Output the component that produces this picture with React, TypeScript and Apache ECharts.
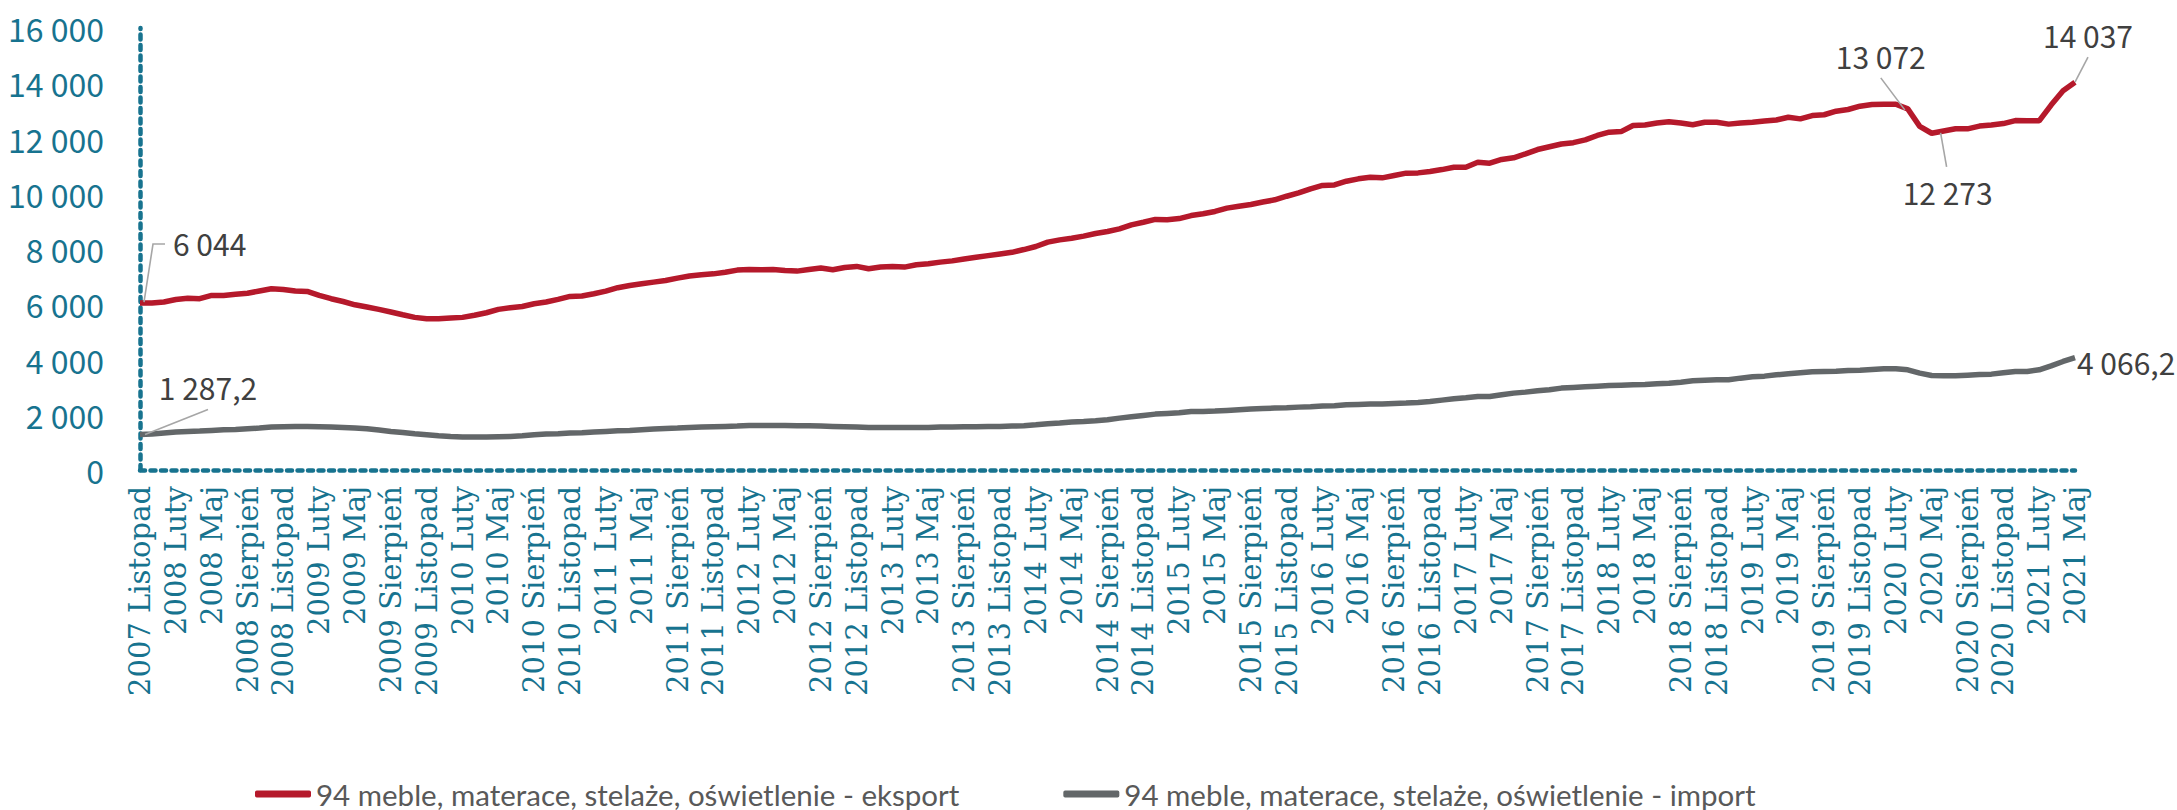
import React, { useEffect, useRef } from "react";
import * as echarts from "echarts";

const MONTHS = ["Styczeń", "Luty", "Marzec", "Kwiecień", "Maj", "Czerwiec", "Lipiec", "Sierpień", "Wrzesień", "Październik", "Listopad", "Grudzień"];
const START_YEAR = 2007;
const START_MONTH = 10; // Listopad (0-based)

const EXPORT_NAME = "94 meble, materace, stelaże, oświetlenie - eksport";
const IMPORT_NAME = "94 meble, materace, stelaże, oświetlenie - import";

const exportValues = [
  6044, 6043, 6080, 6170, 6220, 6200, 6320, 6320, 6360, 6400, 6480, 6560, 6537, 6480, 6465, 6320, 6200, 6100, 5980, 5900,
  5815, 5720, 5620, 5525, 5475, 5475, 5500, 5525, 5600, 5693, 5815, 5875, 5920, 6020, 6080, 6175, 6285,
  6300, 6380, 6476, 6600, 6680, 6740, 6800, 6860, 6946, 7020, 7067, 7100, 7160, 7236, 7260, 7250, 7260, 7225, 7200, 7260,
  7310, 7250, 7330, 7370, 7285, 7345, 7370, 7345, 7430, 7465, 7525, 7570, 7640, 7700, 7760, 7820, 7880, 7980, 8090, 8250,
  8330, 8390,
  8466, 8560, 8634, 8730, 8875, 8970, 9070, 9060, 9100, 9210, 9275, 9360, 9480, 9550, 9610, 9700, 9780, 9910, 10030, 10180,
  10300, 10320, 10455, 10540, 10600, 10575, 10660, 10745, 10755, 10805, 10875, 10960, 10960, 11140, 11105, 11240, 11300,
  11445, 11600, 11700, 11800,
  11850, 11950, 12110, 12230, 12250, 12470, 12490, 12560, 12610, 12560, 12500, 12590, 12590, 12520, 12560, 12590, 12630,
  12670, 12770, 12710, 12830, 12860, 12990, 13050, 13170, 13230, 13240, 13240, 13072, 12440, 12190, 12273, 12350, 12350,
  12450, 12490, 12540, 12650, 12640, 12640, 13210, 13730, 14037,
];

const importValues = [
  1287.2, 1300, 1336, 1372, 1396, 1408, 1433, 1457, 1469, 1493, 1517, 1553, 1565, 1577, 1577, 1565, 1553, 1541, 1517, 1493,
  1445, 1396, 1360, 1312, 1276, 1240, 1215, 1191, 1191, 1191, 1203, 1215, 1240, 1276, 1300, 1312, 1336,
  1345, 1372, 1396, 1420, 1433, 1457, 1481, 1505, 1517, 1541, 1553, 1565, 1577, 1589, 1613, 1613, 1613, 1613, 1601, 1601,
  1589, 1577, 1565, 1553, 1541, 1541, 1541, 1541, 1541, 1541, 1553, 1553, 1565, 1565, 1577, 1577, 1589, 1601, 1637, 1674,
  1700, 1740,
  1759, 1782, 1818, 1878, 1927, 1975, 2023, 2047, 2071, 2120, 2120, 2132, 2156, 2180, 2204, 2228, 2240, 2252, 2276, 2288,
  2313, 2325, 2361, 2373, 2385, 2385, 2409, 2421, 2445, 2481, 2530, 2578, 2614, 2662, 2662, 2723, 2783, 2819, 2867, 2904,
  2964,
  2988, 3012, 3036, 3060, 3072, 3084, 3096, 3120, 3144, 3180, 3229, 3253, 3265, 3265, 3325, 3374, 3398, 3446, 3482, 3518,
  3554, 3566, 3578, 3602, 3614, 3639, 3663, 3663, 3627, 3506, 3422, 3410, 3410, 3434, 3458, 3470, 3518, 3566, 3566, 3627,
  3771, 3928, 4066.2,
];

// Indices of annotated points
const exportAnnotations = [0, 148, 151, 162];
const importAnnotations = [0, 162];

const categories = exportValues.map((_, i) => {
  const m = START_MONTH + i;
  return `${START_YEAR + Math.floor(m / 12)} ${MONTHS[m % 12]}`;
});

const TEAL = "#17738f";
const RED = "#b5192b";
const GRAY = "#636769";
const LABEL_GRAY = "#404040";
const NUM_SANS = "'Noto Sans CJK SC', 'Lato', sans-serif";
const TEXT_SANS = "'Lato', 'Noto Sans', sans-serif";

function fmt(v: number, decimals: number) {
  const fixed = v.toFixed(decimals);
  const [intPart, dec] = fixed.split(".");
  const grouped = intPart.replace(/\B(?=(\d{3})+(?!\d))/g, " ");
  return dec ? `${grouped},${dec}` : grouped;
}

export default function App() {
  const ref = useRef<HTMLDivElement>(null);

  useEffect(() => {
    document.body.style.margin = "0";
    const chart = echarts.init(ref.current!, null, { renderer: "svg" });
    chart.setOption({
      animation: false,
      backgroundColor: "#ffffff",
      grid: { left: 140, right: 102, top: 28, bottom: 340, containLabel: false },
      legend: {
        left: 250,
        top: 774,
        icon: "roundRect",
        itemWidth: 56,
        itemHeight: 7,
        itemGap: 104,
        itemStyle: { borderWidth: 0 },
        textStyle: { fontFamily: TEXT_SANS, fontSize: 29.5, color: "#595959" },
        data: [EXPORT_NAME, IMPORT_NAME],
      },
      xAxis: {
        type: "category",
        boundaryGap: false,
        data: categories,
        axisLine: { show: true, lineStyle: { color: TEAL, width: 4.5, type: [5, 5.5] } },
        axisTick: { show: false },
        axisLabel: {
          interval: 2,
          rotate: 90,
          margin: 16,
          color: TEAL,
          fontFamily: "'DejaVu Serif', serif",
          fontSize: 29,
        },
        splitLine: { show: false },
      },
      yAxis: {
        type: "value",
        min: 0,
        max: 16000,
        interval: 2000,
        axisLine: { show: true, lineStyle: { color: TEAL, width: 4.5, type: [5, 5.5] } },
        axisTick: { show: false },
        splitLine: { show: false },
        axisLabel: {
          margin: 36,
          color: TEAL,
          fontFamily: NUM_SANS,
          fontSize: 32,
          formatter: (v: number) => fmt(v, 0),
        },
      },
      series: [
        {
          name: EXPORT_NAME,
          type: "line",
          data: exportValues,
          showSymbol: false,
          symbol: "none",
          color: RED,
          lineStyle: { color: RED, width: 5.5 },
          z: 3,
        },
        {
          name: IMPORT_NAME,
          type: "line",
          data: importValues,
          showSymbol: false,
          symbol: "none",
          color: GRAY,
          lineStyle: { color: GRAY, width: 5.5 },
          z: 3,
        },
      ],
    });

    const px = (i: number, v: number) =>
      chart.convertToPixel({ xAxisIndex: 0, yAxisIndex: 0 }, [i, v]) as number[];
    const font = `30px ${NUM_SANS}`;
    const leader = (pts: number[][]) => ({
      type: "polyline",
      shape: { points: pts },
      style: { stroke: "#a6a6a6", lineWidth: 1.6, fill: null },
      z: 10,
    });
    const txt = (text: string, x: number, y: number, align: string) => ({
      type: "text",
      x,
      y,
      style: { text, fill: LABEL_GRAY, font, textAlign: align, textVerticalAlign: "middle" },
      z: 10,
    });

    const g: any[] = [];
    {
      const i = exportAnnotations[0];
      const [x, y] = px(i, exportValues[i]);
      g.push(leader([[x + 4, y - 1], [x + 13, y - 59], [x + 25, y - 59]]));
      g.push(txt(fmt(exportValues[i], 0), x + 33, y - 60, "left"));
    }
    {
      const i = exportAnnotations[1];
      const [x, y] = px(i, exportValues[i]);
      g.push(leader([[x - 3, y + 1], [x - 27, y - 31]]));
      g.push(txt(fmt(exportValues[i], 0), x - 27, y - 53, "center"));
    }
    {
      const i = exportAnnotations[2];
      const [x, y] = px(i, exportValues[i]);
      g.push(leader([[x - 3, y + 2], [x + 3, y + 36]]));
      g.push(txt(fmt(exportValues[i], 0), x + 4, y + 61, "center"));
    }
    {
      const i = exportAnnotations[3];
      const [x, y] = px(i, exportValues[i]);
      g.push(leader([[x, y], [x + 13, y - 25]]));
      g.push(txt(fmt(exportValues[i], 0), x + 13, y - 47, "center"));
    }
    {
      const i = importAnnotations[0];
      const [x, y] = px(i, importValues[i]);
      g.push(leader([[x + 5, y], [x + 68, y - 25]]));
      g.push(txt(fmt(importValues[i], 1), x + 68, y - 47, "center"));
    }
    {
      const i = importAnnotations[1];
      const [x, y] = px(i, importValues[i]);
      g.push(txt(fmt(importValues[i], 1), x + 2, y + 4, "left"));
    }
    chart.setOption({ graphic: g });

    return () => chart.dispose();
  }, []);

  return <div ref={ref} style={{ width: 2177, height: 810 }} />;
}
